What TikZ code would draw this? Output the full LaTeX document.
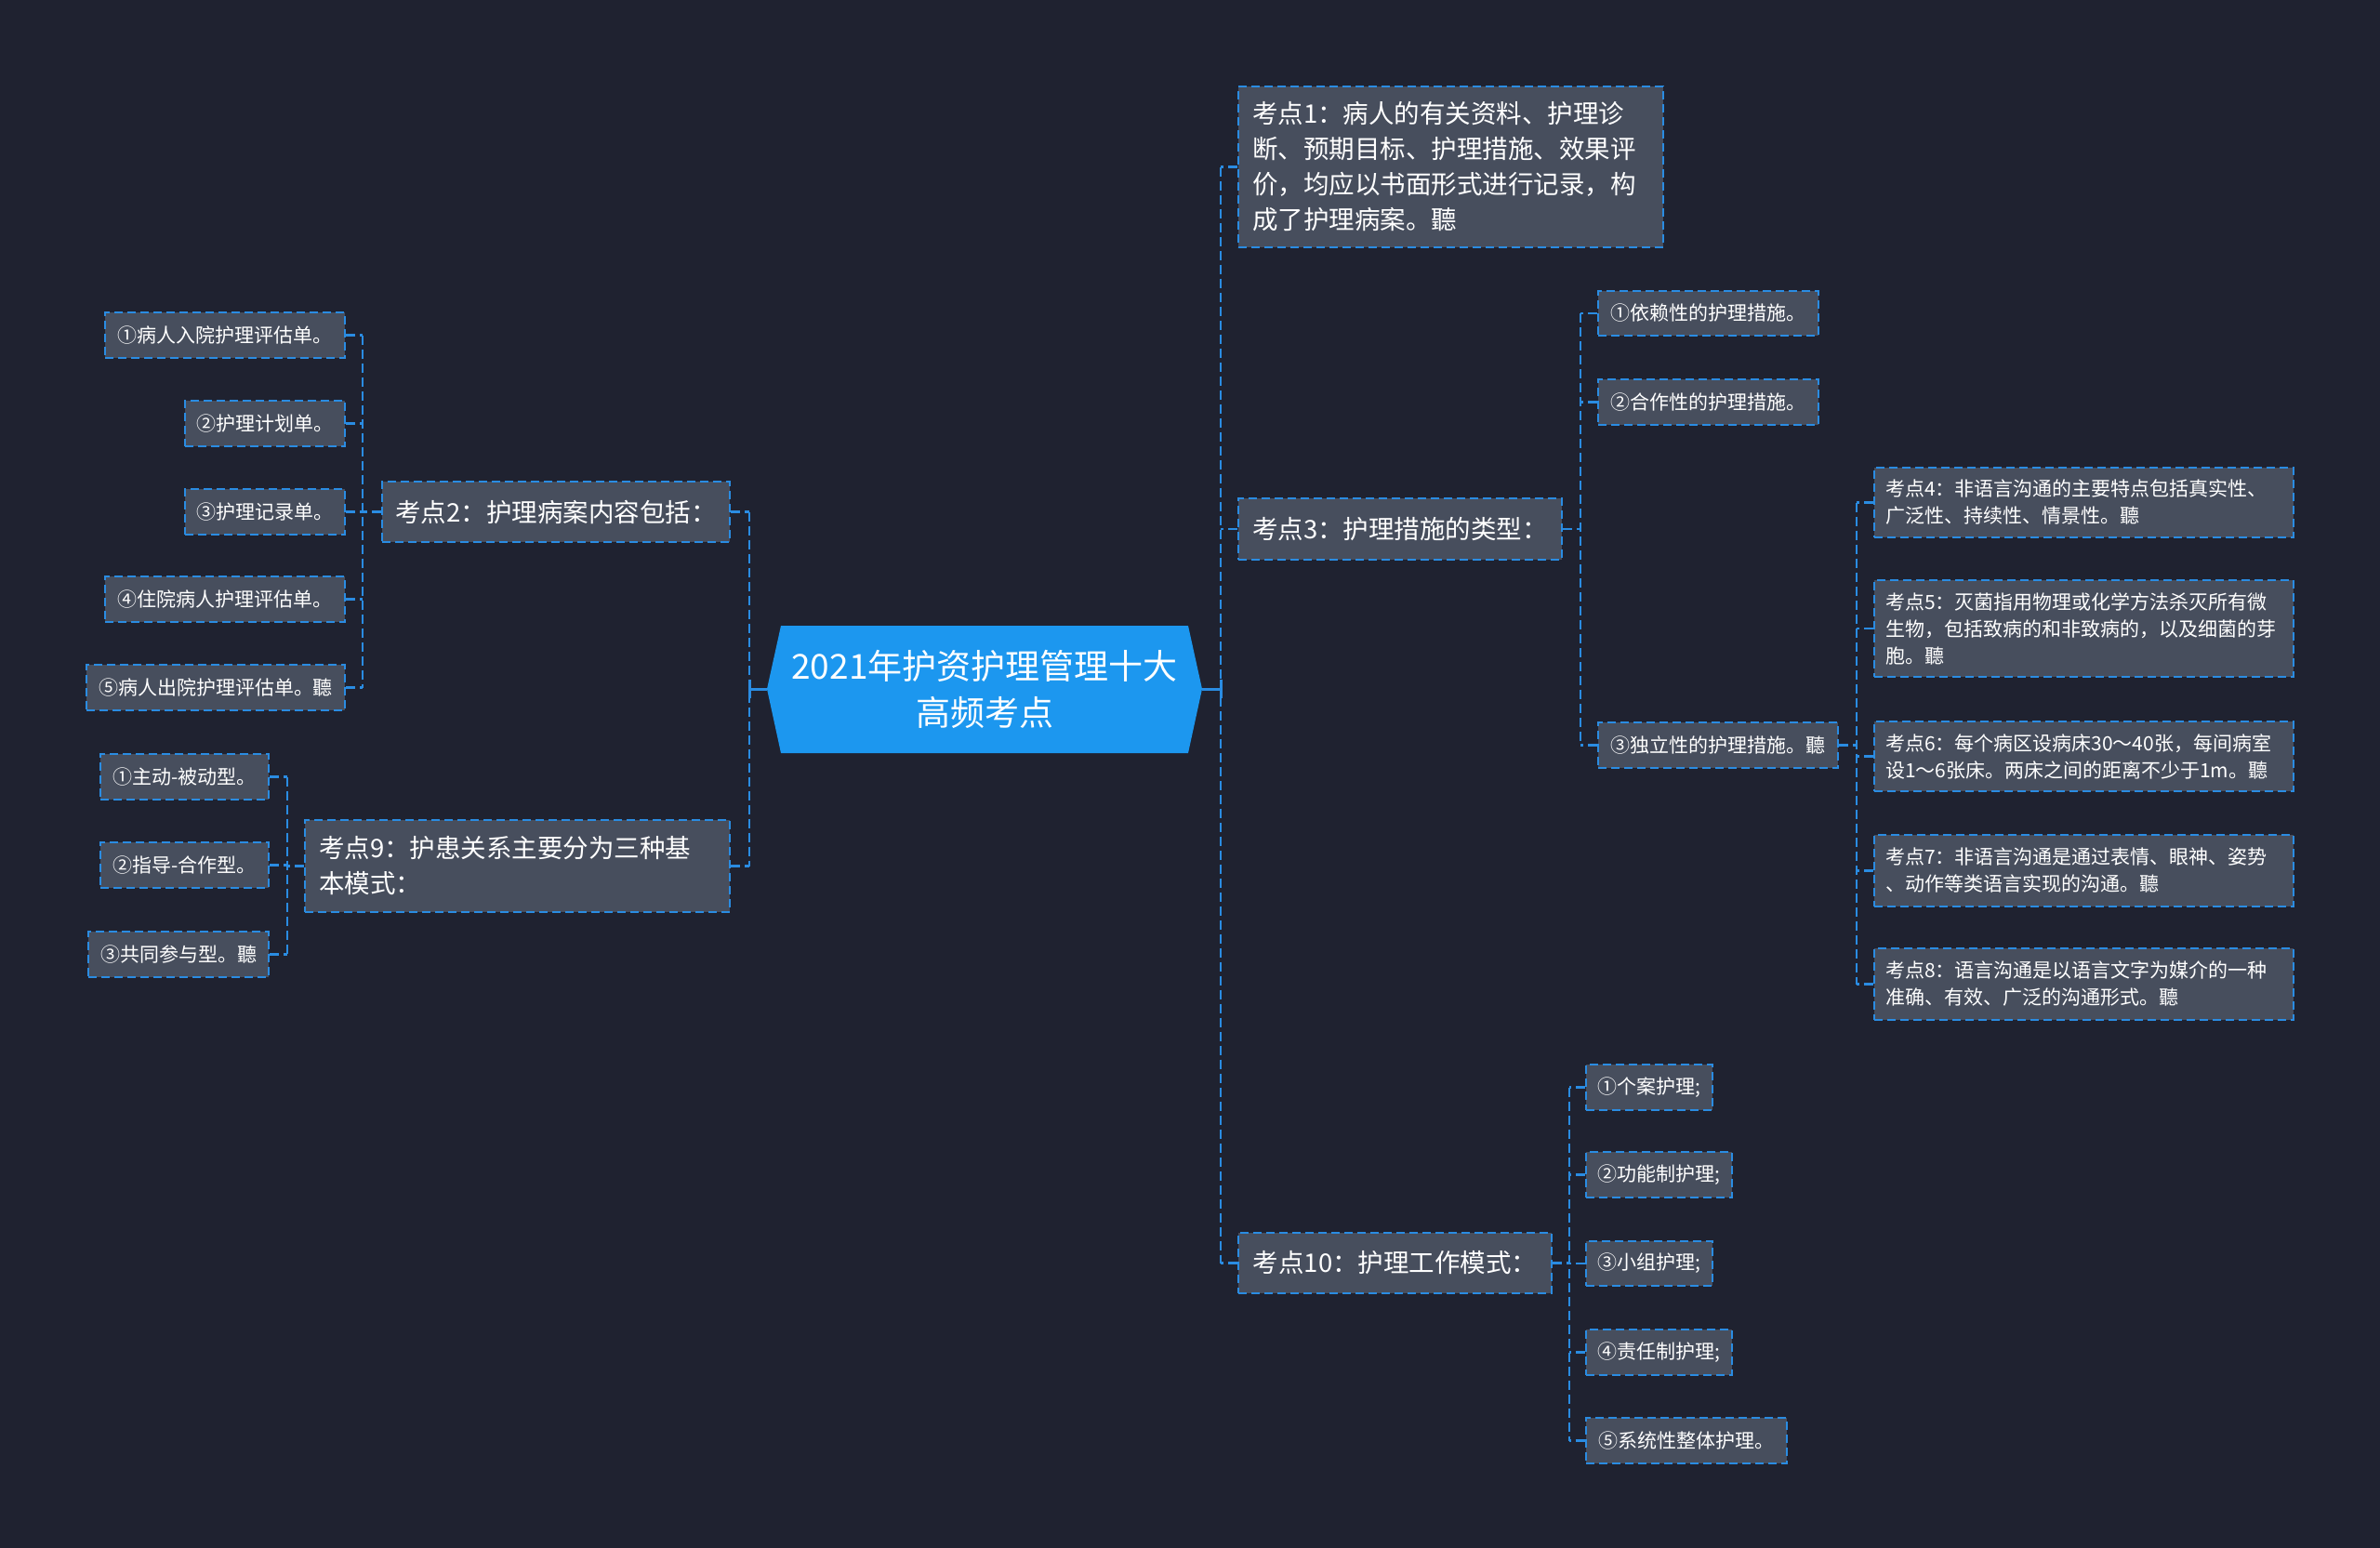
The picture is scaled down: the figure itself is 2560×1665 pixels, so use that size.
\documentclass[tikz,border=0pt]{standalone}
\usepackage{fontspec}
\setmainfont{Noto Sans CJK SC}
\definecolor{bgc}{HTML}{1F2230}
\definecolor{nodefill}{HTML}{474E5D}
\definecolor{lineblue}{HTML}{2A8CE2}
\definecolor{rootblue}{HTML}{1C97EF}
\begin{document}
\begin{tikzpicture}[x=1pt,y=-1pt,
  box/.style={draw=lineblue, dash pattern=on 9pt off 5pt, line width=2pt, fill=nodefill, text=white, inner sep=0pt, align=center},
  small/.style={box, font=\fontsize{21}{29}\selectfont},
  mid/.style={box, font=\fontsize{27.5}{38}\selectfont},
  conn/.style={draw=lineblue, line width=2.5pt, dash pattern=on 10pt off 5pt},
  rootconn/.style={draw=lineblue, line width=3pt},
  roottext/.style={text=white, align=center, font=\fontsize{37}{50}\selectfont}
]
\fill[bgc] (0,0) rectangle (2560,1665);
\useasboundingbox (0,0) rectangle (2560,1665);

% root
\fill[rootblue] (825,741) -- (840,673) -- (1278,673) -- (1293,741) -- (1278,810) -- (840,810) -- cycle;
\node[roottext] (root) at (1059,741) {2021年护资护理管理十大\\高频考点};
\coordinate (rootL) at (825,741);
\coordinate (rootR) at (1293,741);
\coordinate (spL) at (806,741);
\coordinate (spR) at (1313,741);

% main topics
\node[mid, minimum width=457, minimum height=173, text width=427, align=left] (K1) at (1560.5,179.5)
  {考点1：病人的有关资料、护理诊\\断、预期目标、护理措施、效果评\\价，均应以书面形式进行记录，构\\成了护理病案。聽};
\node[mid, minimum width=348, minimum height=66] (K3) at (1506,569) {考点3：护理措施的类型：};
\node[mid, minimum width=337, minimum height=65] (K10) at (1500.5,1358.5) {考点10：护理工作模式：};
\node[mid, minimum width=374, minimum height=65] (K2) at (598,550.5) {考点2：护理病案内容包括：};
\node[mid, minimum width=457, minimum height=99, text width=427, align=left] (K9) at (556.5,931.5)
  {考点9：护患关系主要分为三种基\\本模式：};

% K2 children
\node[small, minimum width=258, minimum height=49] (a1) at (242,360.5) {①病人入院护理评估单。};
\node[small, minimum width=172, minimum height=49] (a2) at (285,455.5) {②护理计划单。};
\node[small, minimum width=172, minimum height=49] (a3) at (285,550.5) {③护理记录单。};
\node[small, minimum width=258, minimum height=49] (a4) at (242,644.5) {④住院病人护理评估单。};
\node[small, minimum width=278, minimum height=49] (a5) at (232,739.5) {⑤病人出院护理评估单。聽};

% K9 children
\node[small, minimum width=181, minimum height=49] (b1) at (198.5,835.5) {①主动-被动型。};
\node[small, minimum width=181, minimum height=49] (b2) at (198.5,930.5) {②指导-合作型。};
\node[small, minimum width=194, minimum height=49] (b3) at (192,1026.5) {③共同参与型。聽};

% K3 children
\node[small, minimum width=237, minimum height=48] (c1) at (1837.5,337) {①依赖性的护理措施。};
\node[small, minimum width=237, minimum height=49] (c2) at (1837.5,432.5) {②合作性的护理措施。};
\node[small, minimum width=258, minimum height=49] (c3) at (1848,801.5) {③独立性的护理措施。聽};

% c3 children
\node[small, minimum width=451, minimum height=75, text width=427, align=left] (d4) at (2241.5,540.5)
  {考点4：非语言沟通的主要特点包括真实性、\\广泛性、持续性、情景性。聽};
\node[small, minimum width=451, minimum height=104, text width=427, align=left] (d5) at (2241.5,676)
  {考点5：灭菌指用物理或化学方法杀灭所有微\\生物，包括致病的和非致病的，以及细菌的芽\\胞。聽};
\node[small, minimum width=451, minimum height=75, text width=427, align=left] (d6) at (2241.5,813.5)
  {考点6：每个病区设病床30～40张，每间病室\\设1～6张床。两床之间的距离不少于1m。聽};
\node[small, minimum width=451, minimum height=77, text width=427, align=left] (d7) at (2241.5,936.5)
  {考点7：非语言沟通是通过表情、眼神、姿势\\、动作等类语言实现的沟通。聽};
\node[small, minimum width=451, minimum height=77, text width=427, align=left] (d8) at (2241.5,1058.5)
  {考点8：语言沟通是以语言文字为媒介的一种\\准确、有效、广泛的沟通形式。聽};

% K10 children
\node[small, minimum width=136, minimum height=49] (e1) at (1774,1169.5) {①个案护理;};
\node[small, minimum width=157, minimum height=49] (e2) at (1784.5,1263.5) {②功能制护理;};
\node[small, minimum width=136, minimum height=48] (e3) at (1774,1359) {③小组护理;};
\node[small, minimum width=157, minimum height=49] (e4) at (1784.5,1454.5) {④责任制护理;};
\node[small, minimum width=216, minimum height=49] (e5) at (1814,1549.5) {⑤系统性整体护理。};

% root connectors
\draw[rootconn] (rootL) -- (spL);
\draw[rootconn] ([yshift=-10pt]spL) -- ([yshift=10pt]spL);
\draw[rootconn] (rootR) -- (spR);
\draw[rootconn] ([yshift=-10pt]spR) -- ([yshift=10pt]spR);

% left main spine
\draw[conn] (K2.east -| spL) -- (K9.east -| spL);
\draw[conn] (K2.east) -- (K2.east -| spL);
\draw[conn] (K9.east) -- (K9.east -| spL);

% right main spine
\draw[conn] (K1.west -| spR) -- (K10.west -| spR);
\draw[conn] (K1.west) -- (K1.west -| spR);
\draw[conn] (K3.west) -- (K3.west -| spR);
\draw[conn] (K10.west) -- (K10.west -| spR);

% K2 group
\coordinate (j2) at (390,550.5);
\draw[conn] (a1.east -| j2) -- (a5.east -| j2);
\draw[conn] (K2.west) -- (j2);
\foreach \n in {a1,a2,a3,a4,a5} \draw[conn] (\n.east) -- (\n.east -| j2);

% K9 group
\coordinate (j9) at (309,931.5);
\draw[conn] (b1.east -| j9) -- (b3.east -| j9);
\draw[conn] (K9.west) -- (j9);
\foreach \n in {b1,b2,b3} \draw[conn] (\n.east) -- (\n.east -| j9);

% K3 group
\coordinate (j3) at (1700,569);
\draw[conn] (c1.west -| j3) -- (c3.west -| j3);
\draw[conn] (K3.east) -- (j3);
\foreach \n in {c1,c2,c3} \draw[conn] (\n.west) -- (\n.west -| j3);

% c3 group
\coordinate (jc3) at (1997,801.5);
\draw[conn] (d4.west -| jc3) -- (d8.west -| jc3);
\draw[conn] (c3.east) -- (jc3);
\foreach \n in {d4,d5,d6,d7,d8} \draw[conn] (\n.west) -- (\n.west -| jc3);

% K10 group
\coordinate (j10) at (1688,1358.5);
\draw[conn] (e1.west -| j10) -- (e5.west -| j10);
\draw[conn] (K10.east) -- (j10);
\foreach \n in {e1,e2,e3,e4,e5} \draw[conn] (\n.west) -- (\n.west -| j10);
\end{tikzpicture}
\end{document}
